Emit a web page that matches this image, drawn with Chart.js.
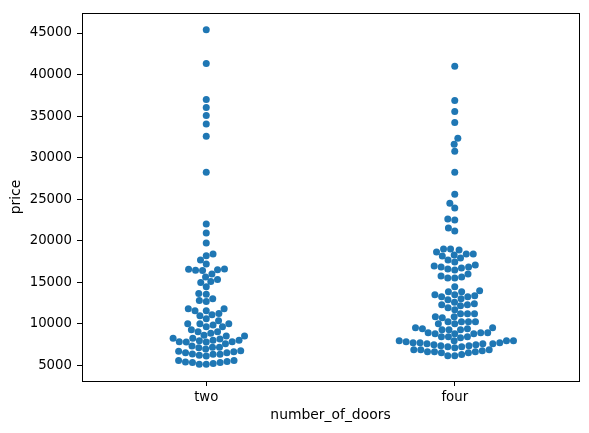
<!DOCTYPE html>
<html>
<head>
<meta charset="utf-8">
<script src="https://cdn.jsdelivr.net/npm/chart.js@4.4.1/dist/chart.umd.min.js"></script>
<style>
  html, body { margin: 0; padding: 0; background: #fff; }
  #wrap { width: 589px; height: 433px; }
</style>
</head>
<body>
<div id="wrap"><canvas id="swarm"></canvas></div>
<script>
const categories = ['two', 'four'];

// prices, one array per door count
const priceTwo = [
    45400, 41320, 37000, 36040, 35080, 34040, 32560, 28240,
    22000, 20920, 19720, 18400, 18200, 17680, 17200, 16600,
    16550, 16500, 16450, 16400, 16000, 15640, 15320, 15080, 14960, 14440,
    13640, 13560, 13000, 12800, 12680,
    11800, 11800, 11560, 11560, 11240, 11080, 10960, 10600, 10360,
    10000, 10000, 10000, 9840, 9640, 9640, 9280, 9040, 9040,
    8840, 8600, 8520, 8520, 8240, 8240, 8160, 8000, 8000, 7960,
    7840, 7840, 7800, 7800, 7600, 7320, 7160, 7160, 7120, 6960,
    6760, 6680, 6640, 6520, 6520, 6360, 6320, 6320, 6200, 6120,
    5560, 5560, 5440, 5400, 5320, 5320, 5200, 5120, 5120
];

const priceFour = [
    41000, 36880, 35560, 34240, 32320, 31600, 30760, 28240,
    25600, 24520, 23920, 22600, 22500, 21520, 21160,
    19000, 19000, 18880, 18640, 18400, 18400, 18280, 18160, 17920,
    17680, 17440,
    17080, 16960, 16840, 16840, 16720, 16600, 16480,
    16000, 15760, 15640, 15520, 15520,
    14440,
    13960, 13840, 13840, 13480, 13480, 13360, 13240, 13240, 13000, 12880,
    12600, 12400, 12280, 12280, 12160, 11920, 11680,
    11200, 11200, 11200, 10840, 10840, 10720,
    10240, 10240, 10240, 10240, 10000, 10000, 9520, 9520, 9400, 9400,
    9280, 9280, 9280, 8920, 8920, 8920, 8800, 8800, 8800, 8440, 8440, 8440, 8320,
    7960, 7960, 7960, 7960, 7840, 7720, 7720, 7720, 7600, 7600, 7600,
    7480, 7480, 7360, 7360, 7240, 7240, 7120,
    6880, 6880, 6880, 6760, 6640, 6640, 6640, 6520, 6520, 6300, 6160, 6160
];

const yTicks = [5000, 10000, 15000, 20000, 25000, 30000, 35000, 40000, 45000];

const allPrices = priceTwo.concat(priceFour);
const pMin = Math.min(...allPrices);
const pMax = Math.max(...allPrices);
const pad = (pMax - pMin) * 0.05;

const FONT = 'DejaVu Sans';
const DOT = 7;   // marker diameter in px

// spread points sideways so they don't overlap (beeswarm, like seaborn)
function swarm(values, center, chart) {
    const xs = chart.scales.x, ys = chart.scales.y;
    const cx = xs.getPixelForValue(center);
    const pts = values.map(v => ({ v: v, py: ys.getPixelForValue(v) }))
        .sort((a, b) => b.py - a.py);
    const placed = [];
    pts.forEach(p => {
        const nb = placed.filter(q => Math.abs(q.py - p.py) < DOT);
        const cands = [cx];
        nb.forEach(q => {
            const dx = Math.sqrt(DOT * DOT - (q.py - p.py) ** 2);
            cands.push(q.px - dx, q.px + dx);
        });
        cands.sort((a, b) => Math.abs(a - cx) - Math.abs(b - cx));
        for (const c of cands) {
            if (nb.every(q => (q.px - c) ** 2 + (q.py - p.py) ** 2 >= DOT * DOT - 0.01)) {
                p.px = c;
                break;
            }
        }
        placed.push(p);
    });
    return placed.map(p => ({ x: xs.getValueForPixel(p.px), y: p.v }));
}

const frame = {
    id: 'frame',
    afterDatasetsDraw(chart) {
        const a = chart.chartArea, c = chart.ctx;
        c.save();
        c.strokeStyle = '#000';
        c.lineWidth = 1;
        c.strokeRect(Math.round(a.left) + 0.5, Math.round(a.top) + 0.5,
            Math.round(a.right - a.left), Math.round(a.bottom - a.top));
        c.restore();
    }
};

const ctx = document.getElementById('swarm').getContext('2d');

const chart = new Chart(ctx, {
    type: 'scatter',
    data: {
        datasets: [{
            label: 'price',
            data: [],
            backgroundColor: '#1f77b4',
            borderWidth: 0,
            pointRadius: DOT / 2,
            pointHoverRadius: DOT / 2
        }]
    },
    options: {
        responsive: true,
        maintainAspectRatio: false,
        animation: false,
        layout: { padding: { left: 0, right: 10, top: 10, bottom: 0 } },
        plugins: { legend: { display: false }, tooltip: { enabled: false } },
        scales: {
            x: {
                type: 'linear',
                min: -0.5,
                max: 1.5,
                afterBuildTicks: s => { s.ticks = categories.map((c, i) => ({ value: i })); },
                afterFit: s => { s.height = 52; },
                ticks: {
                    callback: v => categories[v],
                    color: '#000',
                    padding: 4,
                    font: { family: FONT, size: 13.3 }
                },
                grid: { drawOnChartArea: false, drawTicks: true, tickLength: 5, tickColor: '#000' },
                border: { display: false },
                title: {
                    display: true,
                    text: 'number_of_doors',
                    color: '#000',
                    padding: { top: 0, bottom: 9 },
                    font: { family: FONT, size: 13.9 }
                }
            },
            y: {
                min: pMin - pad,
                max: pMax + pad,
                afterBuildTicks: s => { s.ticks = yTicks.map(v => ({ value: v })); },
                afterFit: s => { s.width = 82; },
                ticks: {
                    callback: v => String(v),
                    color: '#000',
                    padding: 5,
                    font: { family: FONT, size: 13.3 }
                },
                grid: { drawOnChartArea: false, drawTicks: true, tickLength: 5, tickColor: '#000' },
                border: { display: false },
                title: {
                    display: true,
                    text: 'price',
                    color: '#000',
                    padding: { top: 8.5, bottom: 0 },
                    font: { family: FONT, size: 13.9 }
                }
            }
        }
    },
    plugins: [frame]
});

// the swarm needs the pixel scales, so lay it out once the axes exist
chart.data.datasets[0].data = swarm(priceTwo, 0, chart).concat(swarm(priceFour, 1, chart));
chart.update('none');
</script>
</body>
</html>
